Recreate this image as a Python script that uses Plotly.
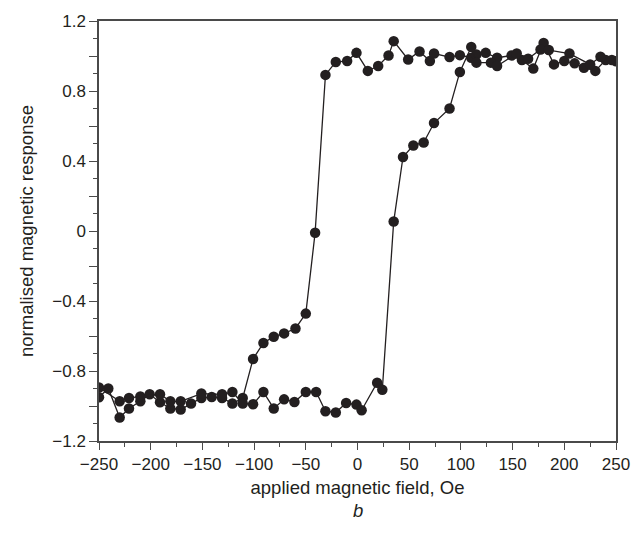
import plotly.graph_objects as go

# Branch sweeping with the switch near -40 Oe
field_a = [-250, -241, -230, -221, -210, -201, -191, -181, -171, -161, -151, -141,
           -131, -121, -111, -101, -91, -81, -71, -60, -50, -41, -31, -21, -10, -1,
           10, 20, 30, 35, 49, 60, 70, 74, 89, 99, 110, 115, 124, 135, 149, 159,
           170, 180, 190, 200, 210, 219, 230, 240, 250]
resp_a = [-0.95, -0.90, -1.066, -1.014, -0.973, -0.933, -0.979, -1.014, -1.02, -0.986,
          -0.954, -0.949, -0.954, -0.986, -0.954, -0.731, -0.64, -0.604, -0.585, -0.557,
          -0.472, -0.01, 0.892, 0.966, 0.971, 1.018, 0.915, 0.943, 1.003, 1.085, 0.98,
          1.026, 0.971, 1.014, 0.994, 1.005, 0.99, 1.009, 1.018, 0.99, 1.003, 0.977,
          0.928, 1.075, 0.952, 0.971, 0.958, 0.933, 0.915, 0.977, 0.97]

# Branch sweeping with the switch near +30 Oe
field_b = [-250, -230, -221, -210, -191, -181, -171, -151, -131, -121, -111, -101,
           -91, -81, -71, -61, -50, -40, -31, -21, -11, -1, 4, 19, 24, 35, 44, 54,
           64, 74, 89, 99, 110, 115, 129, 135, 154, 165, 177, 185, 205, 225, 235, 246]
resp_b = [-0.894, -0.973, -0.954, -0.945, -0.933, -0.973, -0.973, -0.929, -0.933,
          -0.92, -0.986, -0.99, -0.92, -1.014, -0.962, -0.977, -0.92, -0.92, -1.03,
          -1.037, -0.983, -0.992, -1.024, -0.867, -0.907, 0.054, 0.423, 0.489, 0.506,
          0.617, 0.70, 0.909, 1.052, 0.962, 0.962, 0.943, 1.014, 0.984, 1.037, 1.034,
          1.014, 0.952, 0.996, 0.977]

x_ticks = [-250, -200, -150, -100, -50, 0, 50, 100, 150, 200, 250]
x_labels = ["\u2212250", "\u2212200", "\u2212150", "\u2212100", "\u221250", "0",
            "50", "100", "150", "200", "250"]
y_ticks = [-1.2, -1.0, -0.8, -0.6, -0.4, -0.2, 0, 0.2, 0.4, 0.6, 0.8, 1.0, 1.2]
y_labels = ["\u22121.2", "", "\u22120.8", "", "\u22120.4", "", "0", "", "0.4", "",
            "0.8", "", "1.2"]

ink = "#231f20"
frame = "#4a4a4a"
tick_font = dict(family="Liberation Sans, Arial, sans-serif", size=17, color=ink)
title_font = dict(family="Liberation Sans, Arial, sans-serif", size=18.5, color=ink)

fig = go.Figure()
for xs, ys in ((field_a, resp_a), (field_b, resp_b)):
    fig.add_trace(go.Scatter(
        x=xs, y=ys, mode="lines+markers",
        line=dict(color=ink, width=1.3),
        marker=dict(color=ink, size=10.5, line=dict(width=0)),
        showlegend=False,
    ))

fig.update_layout(
    width=642, height=534,
    margin=dict(l=99, r=25, t=18, b=93),
    paper_bgcolor="white", plot_bgcolor="white",
    font=tick_font,
)
fig.update_xaxes(
    range=[-250, 250], tickmode="array", tickvals=x_ticks, ticktext=x_labels,
    ticks="outside", ticklen=7, tickwidth=1.2, tickcolor=frame, tickfont=tick_font,
    showline=True, linecolor=frame, linewidth=1.5, mirror=True,
    showgrid=False, zeroline=False,
    minor=dict(tickmode="linear", tick0=0, dtick=25, ticks="outside",
               ticklen=4, tickwidth=1.2, tickcolor=frame),
    title=dict(text="applied magnetic field, Oe", standoff=8, font=title_font),
)
fig.update_yaxes(
    range=[-1.2, 1.2], tickmode="array", tickvals=y_ticks, ticktext=y_labels,
    ticks="outside", ticklen=8, tickwidth=1.2, tickcolor=frame, tickfont=tick_font,
    showline=True, linecolor=frame, linewidth=1.5, mirror=True,
    showgrid=False, zeroline=False,
    minor=dict(tickmode="linear", tick0=0, dtick=0.1, ticks="outside",
               ticklen=4, tickwidth=1.2, tickcolor=frame),
    title=dict(text="normalised magnetic response", standoff=14, font=title_font),
)
fig.add_annotation(
    text="<i>b</i>", xref="paper", yref="paper", x=0.5, y=-0.165,
    showarrow=False, font=title_font, xanchor="center", yanchor="middle",
)

fig.write_html("out.html")
